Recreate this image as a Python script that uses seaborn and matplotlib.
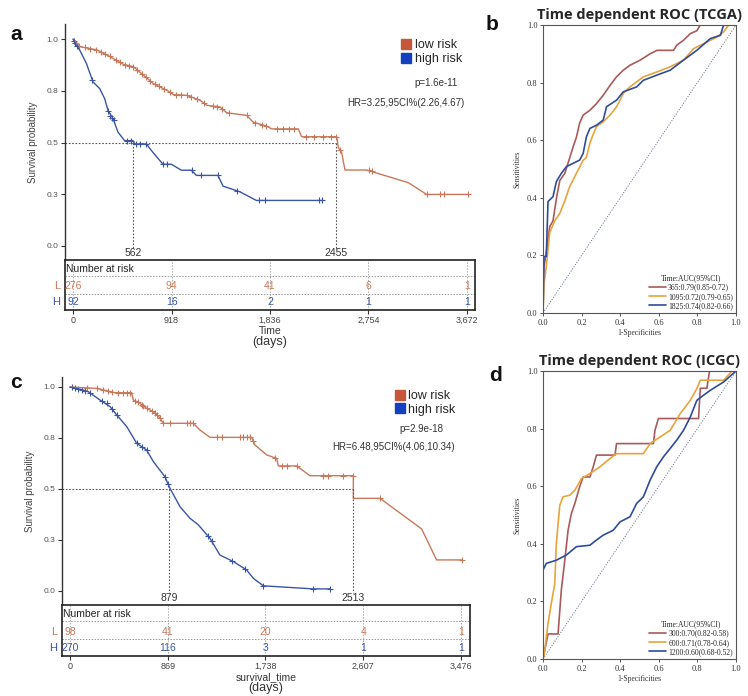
import numpy as np
import seaborn as sns
import matplotlib
matplotlib.use("Agg")
import matplotlib.pyplot as plt
from matplotlib.lines import Line2D

# ---------------- data: panel a (TCGA KM) ----------------
a_low_t = [0, 65, 221, 345, 469, 562, 655, 748, 873, 935, 1060, 1184, 1246, 1370, 1432, 1619, 1681,
           1805, 1852, 2100, 2131, 2458, 2473, 2504, 2535, 2737, 3125, 3296, 3684]
a_low_s = [1.0, 0.963, 0.948, 0.915, 0.878, 0.867, 0.826, 0.785, 0.753, 0.732, 0.728, 0.704, 0.680, 0.672,
           0.644, 0.631, 0.598, 0.579, 0.566, 0.566, 0.528, 0.528, 0.476, 0.452, 0.367, 0.367, 0.306, 0.249, 0.249]
a_low_cens_t = [60, 110, 160, 210, 260, 300, 340, 400, 440, 480, 520, 560, 600, 640, 680, 720, 760, 800, 850,
                900, 960, 1010, 1060, 1100, 1160, 1220, 1300, 1340, 1390, 1450, 1620, 1700, 1760, 1800, 1900,
                1960, 2010, 2060, 2170, 2250, 2330, 2400, 2450, 2490, 2760, 2790, 3300, 3420, 3460, 3684]
a_low_cens_s = [0.965, 0.96, 0.954, 0.949, 0.938, 0.927, 0.916, 0.899, 0.887, 0.877, 0.872, 0.867, 0.85, 0.832,
                0.815, 0.797, 0.782, 0.772, 0.759, 0.744, 0.731, 0.73, 0.728, 0.72, 0.709, 0.69, 0.676, 0.674,
                0.663, 0.643, 0.631, 0.595, 0.586, 0.58, 0.566, 0.566, 0.566, 0.566, 0.528, 0.528, 0.528,
                0.528, 0.528, 0.463, 0.367, 0.36, 0.249, 0.249, 0.249, 0.249]
a_high_t = [0, 31, 62, 124, 186, 248, 295, 326, 373, 419, 481, 559, 575, 683, 745, 838, 916, 1010, 1103,
            1150, 1351, 1398, 1554, 1709, 2318]
a_high_s = [1.0, 0.971, 0.947, 0.883, 0.793, 0.761, 0.712, 0.655, 0.615, 0.55, 0.509, 0.509, 0.493, 0.493,
            0.452, 0.395, 0.395, 0.366, 0.366, 0.341, 0.341, 0.289, 0.262, 0.22, 0.22]
a_high_cens_t = [10, 20, 40, 180, 330, 345, 360, 380, 500, 540, 590, 620, 683, 840, 880, 1110, 1190, 1351,
                 1530, 1730, 1790, 2290, 2318]
a_high_cens_s = [0.99, 0.98, 0.965, 0.8, 0.65, 0.63, 0.62, 0.61, 0.509, 0.509, 0.493, 0.493, 0.493, 0.395,
                 0.395, 0.366, 0.341, 0.341, 0.266, 0.22, 0.22, 0.22, 0.22]
a_medians = [562, 2455]
a_ticks = [0, 918, 1836, 2754, 3672]
a_risk_low = [276, 94, 41, 6, 1]
a_risk_high = [92, 16, 2, 1, 1]

# ---------------- data: panel c (ICGC KM) ----------------
c_low_t = [0, 237, 326, 400, 548, 563, 622, 681, 741, 785, 830, 1096, 1156, 1244, 1615, 1644, 1748, 1837,
           1852, 2015, 2133, 2519, 2519, 2756, 3126, 3259, 3481]
c_low_s = [1.0, 0.993, 0.982, 0.972, 0.972, 0.936, 0.92, 0.895, 0.879, 0.858, 0.822, 0.822, 0.789, 0.753,
           0.753, 0.716, 0.667, 0.65, 0.613, 0.613, 0.565, 0.565, 0.454, 0.454, 0.304, 0.152, 0.152]
c_low_cens_t = [148, 237, 296, 341, 370, 430, 474, 504, 533, 578, 607, 637, 652, 681, 726, 756, 770, 800, 830,
                889, 1037, 1067, 1096, 1304, 1348, 1511, 1541, 1570, 1600, 1630, 1822, 1881, 1926, 2015, 2252,
                2296, 2430, 2519, 2756, 3481]
c_low_cens_s = [0.996, 0.993, 0.986, 0.98, 0.976, 0.972, 0.972, 0.972, 0.972, 0.932, 0.924, 0.914, 0.907,
                0.895, 0.883, 0.872, 0.865, 0.846, 0.822, 0.822, 0.822, 0.822, 0.822, 0.753, 0.753, 0.753,
                0.753, 0.753, 0.753, 0.735, 0.653, 0.613, 0.613, 0.613, 0.565, 0.565, 0.565, 0.565, 0.454, 0.152]
c_high_t = [0, 89, 163, 267, 356, 415, 504, 593, 681, 741, 844, 889, 978, 1067, 1141, 1244, 1333, 1452, 1570,
            1630, 1719, 2163, 2311]
c_high_s = [1.0, 0.989, 0.977, 0.936, 0.904, 0.863, 0.806, 0.724, 0.691, 0.634, 0.56, 0.503, 0.413, 0.356,
            0.324, 0.258, 0.176, 0.144, 0.103, 0.062, 0.025, 0.01, 0.01]
c_high_cens_t = [15, 44, 74, 104, 133, 178, 281, 326, 370, 415, 593, 637, 681, 844, 874, 1230, 1259, 1437,
                 1555, 1719, 2163, 2311]
c_high_cens_s = [0.998, 0.995, 0.991, 0.987, 0.982, 0.971, 0.931, 0.92, 0.894, 0.863, 0.724, 0.707, 0.691,
                 0.56, 0.522, 0.267, 0.245, 0.148, 0.108, 0.025, 0.01, 0.01]
c_medians = [879, 2513]
c_ticks = [0, 869, 1738, 2607, 3476]
c_risk_low = [98, 41, 20, 4, 1]
c_risk_high = [270, 116, 3, 1, 1]

# ---------------- data: panel b (ROC TCGA) ----------------
b_fpr_365 = [0, 0.005, 0.017, 0.035, 0.052, 0.07, 0.087, 0.113, 0.139, 0.156, 0.173, 0.19, 0.208, 0.243,
             0.277, 0.312, 0.347, 0.381, 0.416, 0.45, 0.503, 0.555, 0.59, 0.676, 0.693, 0.728, 0.763, 0.797,
             0.815, 1.0]
b_tpr_365 = [0, 0.16, 0.21, 0.30, 0.32, 0.40, 0.46, 0.485, 0.54, 0.577, 0.61, 0.66, 0.687, 0.704, 0.727,
             0.756, 0.79, 0.82, 0.843, 0.86, 0.878, 0.90, 0.912, 0.912, 0.93, 0.947, 0.97, 0.98, 1.0, 1.0]
b_fpr_1095 = [0, 0.005, 0.017, 0.035, 0.061, 0.087, 0.113, 0.139, 0.173, 0.208, 0.225, 0.243, 0.26, 0.277,
              0.312, 0.347, 0.381, 0.416, 0.45, 0.52, 0.59, 0.659, 0.728, 0.78, 0.832, 0.901, 0.936, 0.962, 1.0]
b_tpr_1095 = [0, 0.10, 0.16, 0.28, 0.32, 0.346, 0.39, 0.44, 0.485, 0.53, 0.54, 0.59, 0.62, 0.647, 0.664,
              0.687, 0.716, 0.762, 0.785, 0.82, 0.837, 0.855, 0.878, 0.918, 0.935, 0.958, 0.976, 1.0, 1.0]
b_fpr_1825 = [0, 0.005, 0.017, 0.026, 0.052, 0.069, 0.095, 0.121, 0.139, 0.19, 0.208, 0.225, 0.243, 0.277,
              0.312, 0.329, 0.381, 0.416, 0.485, 0.52, 0.59, 0.659, 0.728, 0.797, 0.867, 0.919, 0.936, 1.0]
b_tpr_1825 = [0, 0.196, 0.196, 0.387, 0.404, 0.456, 0.485, 0.508, 0.514, 0.531, 0.554, 0.612, 0.641, 0.652,
              0.67, 0.716, 0.739, 0.768, 0.785, 0.808, 0.826, 0.843, 0.878, 0.912, 0.953, 0.964, 1.0, 1.0]
b_labels = ["365:0.79(0.85-0.72)", "1095:0.72(0.79-0.65)", "1825:0.74(0.82-0.66)"]

# ---------------- data: panel d (ROC ICGC) ----------------
d_fpr_300 = [0, 0.026, 0.078, 0.095, 0.113, 0.13, 0.147, 0.165, 0.19, 0.208, 0.243, 0.26, 0.277, 0.373, 0.381,
             0.572, 0.58, 0.598, 0.806, 0.815, 0.849, 0.863, 1.0]
d_tpr_300 = [0, 0.087, 0.087, 0.24, 0.343, 0.447, 0.505, 0.54, 0.598, 0.632, 0.632, 0.667, 0.708, 0.708,
             0.748, 0.748, 0.794, 0.835, 0.835, 0.94, 0.94, 1.0, 1.0]
d_fpr_600 = [0, 0.009, 0.026, 0.043, 0.061, 0.069, 0.087, 0.104, 0.139, 0.165, 0.2, 0.243, 0.295, 0.347,
             0.381, 0.52, 0.555, 0.607, 0.659, 0.711, 0.763, 0.797, 0.815, 0.936, 0.979, 1.0]
d_tpr_600 = [0, 0.03, 0.124, 0.193, 0.262, 0.401, 0.534, 0.563, 0.569, 0.586, 0.627, 0.644, 0.667, 0.696,
             0.713, 0.713, 0.748, 0.771, 0.794, 0.852, 0.898, 0.939, 0.968, 0.968, 1.0, 1.0]
d_fpr_1200 = [0, 0.0, 0.017, 0.069, 0.121, 0.173, 0.243, 0.277, 0.312, 0.364, 0.399, 0.451, 0.485, 0.52,
              0.555, 0.589, 0.624, 0.659, 0.693, 0.728, 0.763, 0.797, 0.832, 0.867, 0.936, 1.0]
d_tpr_1200 = [0, 0.309, 0.332, 0.343, 0.361, 0.39, 0.395, 0.413, 0.43, 0.447, 0.476, 0.494, 0.54, 0.563,
              0.621, 0.667, 0.702, 0.731, 0.76, 0.794, 0.84, 0.898, 0.916, 0.933, 0.962, 1.0]
d_labels = ["300:0.70(0.82-0.58)", "600:0.71(0.78-0.64)", "1200:0.60(0.68-0.52)"]

# ---------------- styling ----------------
LOW_C = "#c9785c"
HIGH_C = "#3a55a6"
LOW_SQ = "#c4573a"
HIGH_SQ = "#1440c0"
ROC_COLS = ["#a95b5b", "#e8a33d", "#2f4c9c"]
W, H = 748, 696

sns.set_theme(style="ticks")
plt.rcParams["font.family"] = ["Liberation Sans", "DejaVu Sans"]

fig = plt.figure(figsize=(W / 100, H / 100), dpi=100)


def box(l, t, r, b):
    return [l / W, 1 - b / H, (r - l) / W, (b - t) / H]


def ftext(x, y, s, **kw):
    fig.text(x / W, 1 - y / H, s, **kw)


def draw_km(km_box, tab_box, xlim, ylim, low, high, medians, ticks, r_low, r_high,
            xlab_y, xlab, leg_xy, p_xy, p_txt, hr_xy, hr_txt):
    ax = fig.add_axes(box(*km_box))
    tab = fig.add_axes(box(*tab_box))
    sns.lineplot(x=low[0], y=low[1], ax=ax, color=LOW_C, lw=1.0, estimator=None, sort=False)
    sns.lineplot(x=high[0], y=high[1], ax=ax, color=HIGH_C, lw=1.0, estimator=None, sort=False)
    sns.scatterplot(x=low[2], y=low[3], ax=ax, marker="+", s=22, color=LOW_C, linewidth=0.8)
    sns.scatterplot(x=high[2], y=high[3], ax=ax, marker="+", s=22, color=HIGH_C, linewidth=0.8)
    ax.set_xlim(*xlim)
    ax.set_ylim(*ylim)
    # median lines
    ax.plot([xlim[0], max(medians)], [0.5, 0.5], ls=(0, (1.5, 1.5)), color="#555555", lw=0.8)
    for m in medians:
        ax.plot([m, m], [0.5, -0.012], ls=(0, (1.5, 1.5)), color="#555555", lw=0.8)
        ax.text(m, -0.036, str(m), ha="center", va="center", fontsize=7.5, color="#333333")
    ax.set_yticks([0, 0.25, 0.5, 0.75, 1.0])
    ax.set_yticklabels(["0.0", "0.3", "0.5", "0.8", "1.0"], fontsize=6, color="#555555")
    ax.set_xticks([])
    ax.set_xlabel("")
    ax.set_ylabel("Survival probability", fontsize=7, color="#444444", labelpad=6)
    ax.tick_params(axis="y", length=3, width=0.8, color="#333333", pad=2)
    for sp in ["top", "right", "bottom"]:
        ax.spines[sp].set_visible(False)
    ax.spines["left"].set_linewidth(1.0)
    ax.spines["left"].set_color("#333333")

    handles = [Line2D([], [], marker="s", ls="", color=LOW_SQ, markersize=7),
               Line2D([], [], marker="s", ls="", color=HIGH_SQ, markersize=7)]
    ax.legend(handles, ["low risk", "high risk"], loc="upper left",
              bbox_to_anchor=(leg_xy[0] / W, 1 - leg_xy[1] / H), bbox_transform=fig.transFigure,
              frameon=False, fontsize=9, handlelength=0.6, handletextpad=0.4, labelspacing=0.15,
              borderpad=0, borderaxespad=0)
    ftext(p_xy[0], p_xy[1], p_txt, ha="right", va="center", fontsize=7, color="#333333")
    ftext(hr_xy[0], hr_xy[1], hr_txt, ha="right", va="center", fontsize=7, color="#333333")

    # risk table
    tab.set_xlim(*xlim)
    tab.set_ylim(50, 0)
    for y in [16, 33.5]:
        tab.axhline(y, ls=(0, (1.5, 1.5)), color="#999999", lw=0.7)
    for t in ticks:
        tab.axvline(t, ls=(0, (1.5, 1.5)), color="#aaaaaa", lw=0.7)
    tab.text(xlim[0] + 5, 8.5, "Number at risk", ha="left", va="center", fontsize=7.5, color="#222222")
    for t, n in zip(ticks, r_low):
        tab.text(t, 26, str(n), ha="center", va="center", fontsize=7.5, color=LOW_C)
    for t, n in zip(ticks, r_high):
        tab.text(t, 42, str(n), ha="center", va="center", fontsize=7.5, color=HIGH_C)
    tab.text(-0.012, 26, "L", transform=tab.get_yaxis_transform(), ha="right", va="center",
             fontsize=8, color=LOW_C)
    tab.text(-0.012, 42, "H", transform=tab.get_yaxis_transform(), ha="right", va="center",
             fontsize=8, color=HIGH_C)
    tab.set_yticks([])
    tab.set_xticks(ticks)
    tab.set_xticklabels([f"{t:,}" for t in ticks], fontsize=6.5, color="#444444")
    tab.tick_params(axis="x", length=3, width=0.8, color="#333333", pad=1.5)
    for sp in tab.spines.values():
        sp.set_linewidth(1.2)
        sp.set_color("#222222")
    ftext((tab_box[0] + tab_box[2]) / 2, xlab_y, xlab, ha="center", va="center", fontsize=7.5,
          color="#333333")
    ftext((tab_box[0] + tab_box[2]) / 2, xlab_y + 11, "(days)", ha="center", va="center", fontsize=9,
          color="#333333")
    return ax


def draw_roc(ax_box, curves, labels, title):
    ax = fig.add_axes(box(*ax_box))
    ax.plot([0, 1], [0, 1], ls=(0, (1.2, 1.5)), color="#6b7a9a", lw=0.7)
    for (fpr, tpr), lab, col in zip(curves, labels, ROC_COLS):
        sns.lineplot(x=fpr, y=tpr, ax=ax, color=col, lw=1.2, estimator=None, sort=False, label=lab)
    ax.set_xlim(0, 1)
    ax.set_ylim(0, 1)
    ticks = [0, 0.2, 0.4, 0.6, 0.8, 1.0]
    ax.set_xticks(ticks)
    ax.set_yticks(ticks)
    serif = ["Liberation Serif", "DejaVu Serif"]
    ax.set_xticklabels([f"{t:.1f}" for t in ticks], fontsize=6, family=serif, color="#333333")
    ax.set_yticklabels([f"{t:.1f}" for t in ticks], fontsize=6, family=serif, color="#333333")
    ax.tick_params(length=2.5, width=0.7, color="#555555", pad=1.5)
    ax.set_xlabel("1-Specificities", fontsize=5.5, family=serif, color="#333333", labelpad=2)
    ax.set_ylabel("Sensitivities", fontsize=5.5, family=serif, color="#333333", labelpad=4)
    for sp in ax.spines.values():
        sp.set_linewidth(0.8)
        sp.set_color("#555555")
    leg = ax.legend(title="Time:AUC(95%CI)", loc="lower right", frameon=False,
                    prop={"family": serif, "size": 5.5}, handlelength=2.2, handletextpad=0.3,
                    labelspacing=0.15, borderaxespad=0.3, borderpad=0.1)
    leg.get_title().set_fontsize(5.5)
    leg.get_title().set_family(serif)
    ax.set_title(title, fontsize=10.5, fontweight="bold", family=["Open Sans", "DejaVu Sans"], pad=4)
    return ax


draw_km((65, 24, 475, 260), (65, 260, 475, 310), (-75, 3747), (-0.068, 1.073),
        (a_low_t, a_low_s, a_low_cens_t, a_low_cens_s),
        (a_high_t, a_high_s, a_high_cens_t, a_high_cens_s),
        a_medians, a_ticks, a_risk_low, a_risk_high,
        331, "Time", (402, 39), (458, 83), "p=1.6e-11", (464, 103), "HR=3.25,95CI%(2.26,4.67)")

draw_km((62, 377, 470, 605), (62, 605, 470, 656), (-71, 3556), (-0.069, 1.049),
        (c_low_t, c_low_s, c_low_cens_t, c_low_cens_s),
        (c_high_t, c_high_s, c_high_cens_t, c_high_cens_s),
        c_medians, c_ticks, c_risk_low, c_risk_high,
        677, "survival_time", (396, 390), (443, 429), "p=2.9e-18", (455, 447), "HR=6.48,95CI%(4.06,10.34)")

draw_roc((543, 25, 736, 313),
         [(b_fpr_365, b_tpr_365), (b_fpr_1095, b_tpr_1095), (b_fpr_1825, b_tpr_1825)],
         b_labels, "Time dependent ROC (TCGA)")
draw_roc((543, 371, 736, 659),
         [(d_fpr_300, d_tpr_300), (d_fpr_600, d_tpr_600), (d_fpr_1200, d_tpr_1200)],
         d_labels, "Time dependent ROC (ICGC)")

for lab, x, y in [("a", 16, 35), ("b", 492, 25), ("c", 16, 382), ("d", 496, 375)]:
    ftext(x, y, lab, ha="center", va="center", fontsize=15, fontweight="bold", color="#111111")

fig.savefig("out.png", dpi=100)
